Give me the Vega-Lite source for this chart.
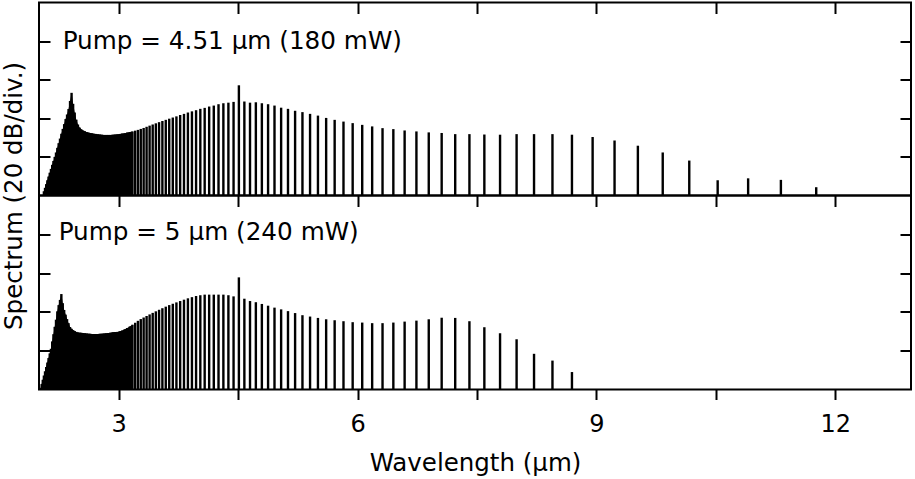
{
  "$schema": "https://vega.github.io/schema/vega-lite/v6.json",
  "background": "white",
  "padding": {"left": 0, "top": 0.5, "right": 4, "bottom": 2},
  "bounds": "flush",
  "spacing": 0,
  "config": {
    "view": {"stroke": "black", "strokeWidth": 2},
    "axis": {"domain": false, "grid": false, "tickColor": "black", "tickWidth": 2, "labelColor": "black", "titleColor": "black", "labelFont": "DejaVu Sans", "titleFont": "DejaVu Sans", "titleFontWeight": "normal"},
    "text": {"font": "DejaVu Sans"}
  },
  "datasets": {
    "p1": [
      {"wavelength": 2.0614, "level": 2.2}, {"wavelength": 2.0756, "level": 4.0}, {"wavelength": 2.0901, "level": 5.9}, {"wavelength": 2.1048, "level": 7.9},
      {"wavelength": 2.1196, "level": 9.8}, {"wavelength": 2.1347, "level": 11.8}, {"wavelength": 2.1500, "level": 13.8}, {"wavelength": 2.1656, "level": 15.9},
      {"wavelength": 2.1813, "level": 17.9}, {"wavelength": 2.1973, "level": 20.0}, {"wavelength": 2.2135, "level": 22.3}, {"wavelength": 2.2300, "level": 24.7},
      {"wavelength": 2.2467, "level": 27.1}, {"wavelength": 2.2636, "level": 29.5}, {"wavelength": 2.2808, "level": 32.0}, {"wavelength": 2.2983, "level": 34.5},
      {"wavelength": 2.3160, "level": 37.0}, {"wavelength": 2.3341, "level": 39.6}, {"wavelength": 2.3524, "level": 42.0}, {"wavelength": 2.3710, "level": 44.8},
      {"wavelength": 2.3899, "level": 49.0}, {"wavelength": 2.4090, "level": 53.2}, {"wavelength": 2.4285, "level": 47.5}, {"wavelength": 2.4484, "level": 43.0},
      {"wavelength": 2.4685, "level": 39.3}, {"wavelength": 2.4890, "level": 36.8}, {"wavelength": 2.5098, "level": 35.2}, {"wavelength": 2.5310, "level": 34.3},
      {"wavelength": 2.5525, "level": 33.7}, {"wavelength": 2.5745, "level": 33.3}, {"wavelength": 2.5968, "level": 32.9}, {"wavelength": 2.6194, "level": 32.6},
      {"wavelength": 2.6425, "level": 32.4}, {"wavelength": 2.6660, "level": 32.2}, {"wavelength": 2.6899, "level": 32.0}, {"wavelength": 2.7143, "level": 31.9},
      {"wavelength": 2.7390, "level": 31.7}, {"wavelength": 2.7643, "level": 31.6}, {"wavelength": 2.7900, "level": 31.5}, {"wavelength": 2.8162, "level": 31.4},
      {"wavelength": 2.8429, "level": 31.4}, {"wavelength": 2.8701, "level": 31.4}, {"wavelength": 2.8978, "level": 31.4}, {"wavelength": 2.9261, "level": 31.5},
      {"wavelength": 2.9549, "level": 31.6}, {"wavelength": 2.9843, "level": 31.7}, {"wavelength": 3.0143, "level": 31.9}, {"wavelength": 3.0449, "level": 32.1},
      {"wavelength": 3.0761, "level": 32.3}, {"wavelength": 3.1080, "level": 32.6}, {"wavelength": 3.1406, "level": 32.9}, {"wavelength": 3.1738, "level": 33.2},
      {"wavelength": 3.2077, "level": 33.6}, {"wavelength": 3.2424, "level": 34.0}, {"wavelength": 3.2778, "level": 34.5}, {"wavelength": 3.3141, "level": 35.0},
      {"wavelength": 3.3511, "level": 35.6}, {"wavelength": 3.3889, "level": 36.2}, {"wavelength": 3.4277, "level": 36.8}, {"wavelength": 3.4673, "level": 37.4},
      {"wavelength": 3.5079, "level": 38.0}, {"wavelength": 3.5494, "level": 38.6}, {"wavelength": 3.5919, "level": 39.2}, {"wavelength": 3.6354, "level": 39.8},
      {"wavelength": 3.6800, "level": 40.4}, {"wavelength": 3.7257, "level": 41.0}, {"wavelength": 3.7726, "level": 41.7}, {"wavelength": 3.8206, "level": 42.3},
      {"wavelength": 3.8699, "level": 43.0}, {"wavelength": 3.9205, "level": 43.6}, {"wavelength": 3.9724, "level": 44.2}, {"wavelength": 4.0257, "level": 44.9},
      {"wavelength": 4.0805, "level": 45.4}, {"wavelength": 4.1368, "level": 46.1}, {"wavelength": 4.1947, "level": 46.6}, {"wavelength": 4.2542, "level": 47.3},
      {"wavelength": 4.3153, "level": 47.8}, {"wavelength": 4.3783, "level": 48.1}, {"wavelength": 4.4432, "level": 48.5}, {"wavelength": 4.5100, "level": 57.1},
      {"wavelength": 4.5788, "level": 48.7}, {"wavelength": 4.6498, "level": 48.1}, {"wavelength": 4.7231, "level": 48.3}, {"wavelength": 4.7986, "level": 47.8},
      {"wavelength": 4.8766, "level": 47.3}, {"wavelength": 4.9572, "level": 46.6}, {"wavelength": 5.0405, "level": 45.5}, {"wavelength": 5.1267, "level": 44.9},
      {"wavelength": 5.2159, "level": 43.9}, {"wavelength": 5.3082, "level": 43.2}, {"wavelength": 5.4038, "level": 42.3}, {"wavelength": 5.5029, "level": 41.4},
      {"wavelength": 5.6058, "level": 40.2}, {"wavelength": 5.7126, "level": 39.2}, {"wavelength": 5.8235, "level": 38.3}, {"wavelength": 5.9388, "level": 37.5},
      {"wavelength": 6.0588, "level": 36.6}, {"wavelength": 6.1836, "level": 35.8}, {"wavelength": 6.3138, "level": 34.9}, {"wavelength": 6.4496, "level": 34.4},
      {"wavelength": 6.5913, "level": 33.7}, {"wavelength": 6.7394, "level": 33.2}, {"wavelength": 6.8943, "level": 32.7}, {"wavelength": 7.0565, "level": 32.4},
      {"wavelength": 7.2265, "level": 31.8}, {"wavelength": 7.4050, "level": 31.8}, {"wavelength": 7.5924, "level": 31.6}, {"wavelength": 7.7896, "level": 31.5},
      {"wavelength": 7.9973, "level": 31.8}, {"wavelength": 8.2163, "level": 31.8}, {"wavelength": 8.4477, "level": 31.8}, {"wavelength": 8.6925, "level": 31.5},
      {"wavelength": 8.9520, "level": 30.3}, {"wavelength": 9.2274, "level": 28.5}, {"wavelength": 9.5203, "level": 25.8}, {"wavelength": 9.8324, "level": 22.3},
      {"wavelength": 10.1656, "level": 18.1}, {"wavelength": 10.5222, "level": 7.9}, {"wavelength": 10.9048, "level": 8.9}, {"wavelength": 11.3162, "level": 8.1},
      {"wavelength": 11.7599, "level": 4.3}
    ],
    "p2": [
      {"wavelength": 2.0197, "level": 0.7}, {"wavelength": 2.0334, "level": 2.8}, {"wavelength": 2.0473, "level": 5.0}, {"wavelength": 2.0614, "level": 7.2},
      {"wavelength": 2.0756, "level": 9.4}, {"wavelength": 2.0901, "level": 11.6}, {"wavelength": 2.1048, "level": 13.9}, {"wavelength": 2.1196, "level": 16.2},
      {"wavelength": 2.1347, "level": 18.6}, {"wavelength": 2.1500, "level": 21.0}, {"wavelength": 2.1656, "level": 24.8}, {"wavelength": 2.1813, "level": 28.5},
      {"wavelength": 2.1973, "level": 32.3}, {"wavelength": 2.2135, "level": 36.0}, {"wavelength": 2.2300, "level": 40.3}, {"wavelength": 2.2467, "level": 43.5},
      {"wavelength": 2.2636, "level": 46.2}, {"wavelength": 2.2808, "level": 49.2}, {"wavelength": 2.2983, "level": 44.5}, {"wavelength": 2.3160, "level": 41.0},
      {"wavelength": 2.3341, "level": 38.6}, {"wavelength": 2.3524, "level": 36.3}, {"wavelength": 2.3710, "level": 34.2}, {"wavelength": 2.3899, "level": 32.2},
      {"wavelength": 2.4090, "level": 31.3}, {"wavelength": 2.4285, "level": 30.6}, {"wavelength": 2.4484, "level": 30.1}, {"wavelength": 2.4685, "level": 29.7},
      {"wavelength": 2.4890, "level": 29.4}, {"wavelength": 2.5098, "level": 29.3}, {"wavelength": 2.5310, "level": 29.2}, {"wavelength": 2.5525, "level": 29.1},
      {"wavelength": 2.5745, "level": 29.0}, {"wavelength": 2.5968, "level": 28.9}, {"wavelength": 2.6194, "level": 28.8}, {"wavelength": 2.6425, "level": 28.7},
      {"wavelength": 2.6660, "level": 28.6}, {"wavelength": 2.6899, "level": 28.6}, {"wavelength": 2.7143, "level": 28.6}, {"wavelength": 2.7390, "level": 28.6},
      {"wavelength": 2.7643, "level": 28.7}, {"wavelength": 2.7900, "level": 28.8}, {"wavelength": 2.8162, "level": 28.9}, {"wavelength": 2.8429, "level": 29.0},
      {"wavelength": 2.8701, "level": 29.1}, {"wavelength": 2.8978, "level": 29.3}, {"wavelength": 2.9261, "level": 29.5}, {"wavelength": 2.9549, "level": 29.6},
      {"wavelength": 2.9843, "level": 29.7}, {"wavelength": 3.0143, "level": 30.0}, {"wavelength": 3.0449, "level": 30.4}, {"wavelength": 3.0761, "level": 31.0},
      {"wavelength": 3.1080, "level": 31.7}, {"wavelength": 3.1406, "level": 32.5}, {"wavelength": 3.1738, "level": 33.4}, {"wavelength": 3.2077, "level": 34.4},
      {"wavelength": 3.2424, "level": 35.4}, {"wavelength": 3.2778, "level": 36.3}, {"wavelength": 3.3141, "level": 37.1}, {"wavelength": 3.3511, "level": 37.9},
      {"wavelength": 3.3889, "level": 38.7}, {"wavelength": 3.4277, "level": 39.5}, {"wavelength": 3.4673, "level": 40.3}, {"wavelength": 3.5079, "level": 41.1},
      {"wavelength": 3.5494, "level": 41.9}, {"wavelength": 3.5919, "level": 42.7}, {"wavelength": 3.6354, "level": 43.5}, {"wavelength": 3.6800, "level": 44.2},
      {"wavelength": 3.7257, "level": 44.9}, {"wavelength": 3.7726, "level": 45.6}, {"wavelength": 3.8206, "level": 46.3}, {"wavelength": 3.8699, "level": 47.0},
      {"wavelength": 3.9205, "level": 47.6}, {"wavelength": 3.9724, "level": 48.2}, {"wavelength": 4.0257, "level": 48.6}, {"wavelength": 4.0805, "level": 48.9},
      {"wavelength": 4.1368, "level": 48.9}, {"wavelength": 4.1947, "level": 48.9}, {"wavelength": 4.2542, "level": 48.9}, {"wavelength": 4.3153, "level": 48.9},
      {"wavelength": 4.3783, "level": 48.6}, {"wavelength": 4.4432, "level": 48.0}, {"wavelength": 4.5100, "level": 57.8}, {"wavelength": 4.5788, "level": 46.8},
      {"wavelength": 4.6498, "level": 45.6}, {"wavelength": 4.7231, "level": 45.0}, {"wavelength": 4.7986, "level": 44.1}, {"wavelength": 4.8766, "level": 43.2},
      {"wavelength": 4.9572, "level": 42.2}, {"wavelength": 5.0405, "level": 41.3}, {"wavelength": 5.1267, "level": 40.4}, {"wavelength": 5.2159, "level": 39.4},
      {"wavelength": 5.3082, "level": 38.3}, {"wavelength": 5.4038, "level": 37.6}, {"wavelength": 5.5029, "level": 36.9}, {"wavelength": 5.6058, "level": 36.2},
      {"wavelength": 5.7126, "level": 35.7}, {"wavelength": 5.8235, "level": 35.2}, {"wavelength": 5.9388, "level": 34.7}, {"wavelength": 6.0588, "level": 34.5},
      {"wavelength": 6.1836, "level": 34.2}, {"wavelength": 6.3138, "level": 34.2}, {"wavelength": 6.4496, "level": 34.5}, {"wavelength": 6.5913, "level": 35.0},
      {"wavelength": 6.7394, "level": 35.5}, {"wavelength": 6.8943, "level": 36.2}, {"wavelength": 7.0565, "level": 37.0}, {"wavelength": 7.2265, "level": 36.9},
      {"wavelength": 7.4050, "level": 35.2}, {"wavelength": 7.5924, "level": 32.1}, {"wavelength": 7.7896, "level": 29.0}, {"wavelength": 7.9973, "level": 25.9},
      {"wavelength": 8.2163, "level": 18.4}, {"wavelength": 8.4477, "level": 14.9}, {"wavelength": 8.6925, "level": 9.0}
    ]
  },
  "vconcat": [
    {
      "width": 872,
      "height": 193,
      "layer": [
        {
          "data": {"name": "p1"},
          "transform": [{"filter": "datum.wavelength <= 3.2"}],
          "mark": {"type": "area", "color": "black", "interpolate": "linear"},
          "encoding": {
            "x": {"field": "wavelength", "type": "quantitative", "scale": {"domain": [2, 12.95], "nice": false, "zero": false}, "axis": null},
            "y": {"field": "level", "type": "quantitative", "scale": {"domain": [0, 100], "nice": false, "zero": false}, "axis": null},
            "y2": {"datum": 0}
          }
        },
        {
          "data": {"name": "p1"},
          "mark": {"type": "rule", "color": "black", "strokeWidth": 2.4},
          "encoding": {
            "x": {"field": "wavelength", "type": "quantitative",
                  "axis": {"orient": "top", "values": [3, 4.5, 6, 7.5, 9, 10.5, 12], "labels": false, "tickSize": -11, "title": null}},
            "y": {"field": "level", "type": "quantitative",
                  "axis": {"orient": "left", "values": [20, 40, 60, 80], "labels": false, "tickSize": -11, "title": "Spectrum (20 dB/div.)", "titleFontSize": 24.5, "titleY": 193, "titlePadding": 12}},
            "y2": {"datum": 0}
          }
        },
        {
          "data": {"values": [{"label": "Pump = 4.51 µm (180 mW)"}]},
          "mark": {"type": "text", "align": "left", "baseline": "alphabetic", "fontSize": 24.7, "color": "black"},
          "encoding": {
            "x": {"datum": 2.297, "type": "quantitative", "axis": null},
            "y": {"datum": 75.9, "type": "quantitative", "axis": {"orient": "right", "values": [20, 40, 60, 80], "labels": false, "tickSize": -11, "title": null}},
            "text": {"field": "label"}
          }
        }
      ],
      "resolve": {"axis": {"x": "independent", "y": "independent"}}
    },
    {
      "width": 872,
      "height": 194,
      "layer": [
        {
          "data": {"name": "p2"},
          "transform": [{"filter": "datum.wavelength <= 3.2"}],
          "mark": {"type": "area", "color": "black", "interpolate": "linear"},
          "encoding": {
            "x": {"field": "wavelength", "type": "quantitative", "scale": {"domain": [2, 12.95], "nice": false, "zero": false}, "axis": null},
            "y": {"field": "level", "type": "quantitative", "scale": {"domain": [0, 100], "nice": false, "zero": false}, "axis": null},
            "y2": {"datum": 0}
          }
        },
        {
          "data": {"name": "p2"},
          "mark": {"type": "rule", "color": "black", "strokeWidth": 2.4},
          "encoding": {
            "x": {"field": "wavelength", "type": "quantitative",
                  "axis": {"orient": "bottom", "values": [3, 4.5, 6, 7.5, 9, 10.5, 12], "tickSize": 10, "labelFontSize": 24, "labelPadding": 13,
                           "labelExpr": "datum.value % 3 === 0 ? datum.label : ''", "title": "Wavelength (µm)", "titleFontSize": 24.5, "titlePadding": 15,
                           "encode": {"ticks": {"update": {"y2": {"signal": "datum.value % 3 === 0 ? 10 : 5"}}}}}},
            "y": {"field": "level", "type": "quantitative",
                  "axis": {"orient": "left", "values": [20, 40, 60, 80], "labels": false, "tickSize": -11, "title": null}},
            "y2": {"datum": 0}
          }
        },
        {
          "data": {"values": [{"label": "Pump = 5 µm (240 mW)"}]},
          "mark": {"type": "text", "align": "left", "baseline": "alphabetic", "fontSize": 24.7, "color": "black"},
          "encoding": {
            "x": {"datum": 2.247, "type": "quantitative", "axis": {"orient": "top", "values": [3, 4.5, 6, 7.5, 9, 10.5, 12], "labels": false, "tickSize": -11, "title": null}},
            "y": {"datum": 77.2, "type": "quantitative", "axis": {"orient": "right", "values": [20, 40, 60, 80], "labels": false, "tickSize": -11, "title": null}},
            "text": {"field": "label"}
          }
        }
      ],
      "resolve": {"axis": {"x": "independent", "y": "independent"}}
    }
  ]
}
